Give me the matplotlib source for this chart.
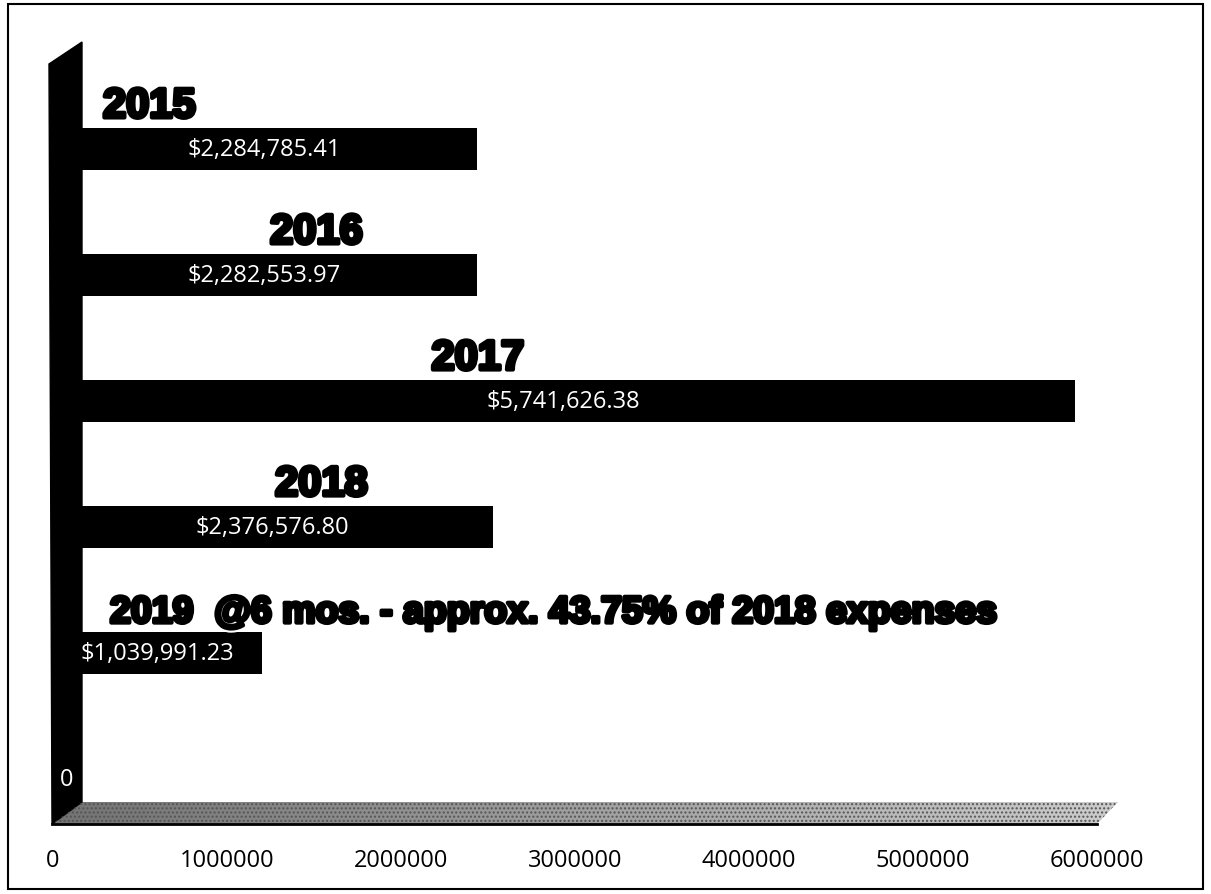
import numpy as np
import matplotlib
matplotlib.use("Agg")
import matplotlib.pyplot as plt
import matplotlib.patheffects as pe
from matplotlib.patches import Polygon, Rectangle

# chart data
titles = ['2015', '2016', '2017', '2018',
          '2019  @6 mos. - approx. 43.75% of 2018 expenses', '']
expenses = [2284785.41, 2282553.97, 5741626.38, 2376576.80, 1039991.23, 0.0]
xticks = [0, 1000000, 2000000, 3000000, 4000000, 5000000, 6000000]

W, H = 1211, 895
fig = plt.figure(figsize=(W / 100, H / 100), dpi=100)


def box(x0, y0, x1, y1):
    # pixel box (from top-left) -> figure fraction rect
    return [x0 / W, 1 - y1 / H, (x1 - x0) / W, (y1 - y0) / H]


# decoration layer: border, wall, floor
deco = fig.add_axes([0, 0, 1, 1])
deco.set_xlim(0, W)
deco.set_ylim(H, 0)
deco.axis('off')
deco.set_zorder(0)
deco.add_patch(Rectangle((8, 5), 1195, 885, fill=False, ec='black', lw=1.5))
deco.add_patch(Polygon([(49, 65), (82, 43), (82, 803), (52, 825)],
                       closed=True, fc='black', ec='black', lw=1))
floor = Polygon([(82, 803), (1118, 803), (1097, 825), (52, 825)],
                closed=True, fc='none', ec='none')
deco.add_patch(floor)
grad = np.linspace(0.45, 0.8, 256).reshape(1, -1)
im = deco.imshow(grad, cmap='gray', vmin=0, vmax=1, aspect='auto',
                 extent=(52, 1118, 825, 803), interpolation='bilinear')
im.set_clip_path(floor)
deco.add_patch(Polygon([(82, 803), (1118, 803), (1097, 825), (52, 825)],
                       closed=True, fc='none', ec='#555555', lw=0,
                       hatch='....'))
deco.plot([52, 1097], [825, 825], color='black', lw=2)

# bars (back plane)
ax = fig.add_axes(box(82, 43, 1120, 803))
ax.set_zorder(1)
ax.patch.set_visible(False)
ypos = np.arange(len(expenses))
ax.barh(ypos, expenses, height=0.33, color='black')
ax.set_xlim(0, 6000000)
ax.set_ylim(5.18, -0.85)
ax.axis('off')

title_left = [121000, 1087000, 2020000, 1116000, 162000]
title_size = [30, 30, 30, 30, 27]
heavy = [pe.Stroke(linewidth=6, foreground='white'),
         pe.Stroke(linewidth=3, foreground='black'), pe.Normal()]
for i, (t, v) in enumerate(zip(titles, expenses)):
    if t:
        ax.text(title_left[i], i - 0.18, t, ha='left', va='bottom',
                fontsize=title_size[i], fontweight='bold', color='black',
                family='Liberation Sans', path_effects=heavy, zorder=3)
    lab = f"${v:,.2f}" if v else "0"
    ax.annotate(lab, (v / 2, i), xytext=(-15, 0), textcoords='offset pixels',
                ha='center', va='center', color='white', fontsize=17,
                family='Open Sans', zorder=4)

# tick labels on the front edge of the floor
tx = fig.add_axes(box(53, 815, 1097, 825))
tx.set_xlim(0, 6000000)
tx.set_xticks(xticks)
tx.set_xticklabels([str(t) for t in xticks], family='Open Sans', fontsize=17)
tx.tick_params(axis='x', length=0, pad=17)
tx.set_yticks([])
for s in tx.spines.values():
    s.set_visible(False)
tx.patch.set_visible(False)

fig.savefig('out.png', dpi=100)
